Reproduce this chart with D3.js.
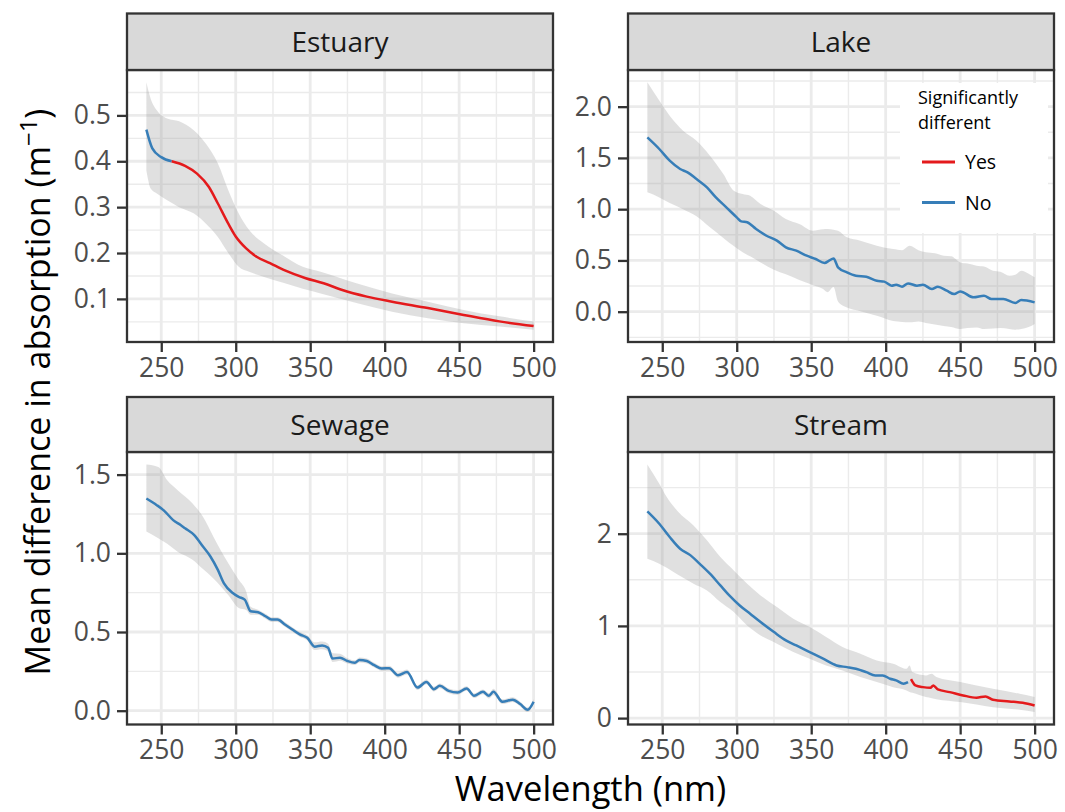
<!DOCTYPE html>
<html><head><meta charset="utf-8">
<script src="https://cdn.jsdelivr.net/npm/d3@7"></script>
<style>
body{margin:0;background:#fff;}
svg{display:block;font-family:'Open Sans',sans-serif;}
</style>
</head><body>
<svg id="chart" width="1065" height="812"></svg>
<script>
// ---------------- DATA ----------------
const xTicks = [250, 300, 350, 400, 450, 500];
const xMinorTicks = [275, 325, 375, 425, 475];
const xRange = [240, 500];

// Estuary
const estuaryNm   = [240, 244, 250, 257, 257, 266, 274, 282, 288, 295, 300, 307, 314, 323, 333, 347, 359, 371, 388, 405, 429, 453, 477, 500];
const estuaryMean = [0.469, 0.428, 0.409, 0.400, 0.400, 0.390, 0.373, 0.344, 0.308, 0.264, 0.236, 0.210, 0.192, 0.178, 0.162, 0.145, 0.134, 0.120, 0.105, 0.094, 0.080, 0.065, 0.051, 0.041];
const estuarySig  = ["No","No","No","No","Yes","Yes","Yes","Yes","Yes","Yes","Yes","Yes","Yes","Yes","Yes","Yes","Yes","Yes","Yes","Yes","Yes","Yes","Yes","Yes"];
const estuaryBandNm = [240, 243, 247, 254, 262, 272, 280, 288, 295, 302, 309, 319, 333, 345, 357, 381, 405, 429, 453, 477, 500];
const estuaryUpper  = [0.572, 0.535, 0.511, 0.493, 0.487, 0.467, 0.438, 0.395, 0.337, 0.286, 0.250, 0.221, 0.192, 0.170, 0.159, 0.134, 0.112, 0.094, 0.076, 0.062, 0.051];
const estuaryLower  = [0.380, 0.340, 0.330, 0.315, 0.300, 0.286, 0.264, 0.235, 0.200, 0.170, 0.159, 0.148, 0.134, 0.122, 0.112, 0.091, 0.072, 0.058, 0.047, 0.040, 0.033];
const estuaryYTicks = [0.1, 0.2, 0.3, 0.4, 0.5];
const estuaryYLabels = ["0.1", "0.2", "0.3", "0.4", "0.5"];
const estuaryYMinor = [0.05, 0.15, 0.25, 0.35, 0.45, 0.55];

// Lake
const lakeNm   = [240, 248, 255, 262, 267, 273, 280, 286, 293, 300, 303, 307, 313, 320, 327, 333, 340, 347, 353, 359, 362, 365, 368, 374, 380, 387, 394, 399, 404, 407, 411, 415, 421, 425, 431, 435, 441, 446, 450, 459, 466, 471, 479, 487, 491, 500];
const lakeMean = [1.70, 1.587, 1.473, 1.392, 1.359, 1.294, 1.213, 1.115, 1.018, 0.920, 0.881, 0.872, 0.807, 0.741, 0.693, 0.628, 0.595, 0.546, 0.514, 0.475, 0.498, 0.520, 0.433, 0.384, 0.351, 0.341, 0.302, 0.293, 0.254, 0.263, 0.244, 0.276, 0.254, 0.263, 0.221, 0.244, 0.205, 0.172, 0.198, 0.140, 0.156, 0.124, 0.124, 0.085, 0.114, 0.091];
const lakeSig  = lakeNm.map(() => "No");
const lakeBandNm = [240, 248, 255, 264, 273, 282, 291, 298, 304, 309, 316, 325, 333, 342, 351, 358, 361, 365, 368, 374, 383, 394, 405, 411, 416, 422, 427, 433, 439, 444, 450, 455, 461, 466, 472, 477, 483, 487, 491, 496, 500];
const lakeUpper  = [2.237, 2.059, 1.912, 1.766, 1.668, 1.522, 1.343, 1.180, 1.148, 1.132, 1.050, 0.985, 0.904, 0.855, 0.790, 0.805, 0.807, 0.800, 0.790, 0.725, 0.693, 0.644, 0.611, 0.600, 0.644, 0.600, 0.579, 0.570, 0.546, 0.540, 0.481, 0.470, 0.449, 0.440, 0.400, 0.390, 0.351, 0.360, 0.400, 0.370, 0.335];
const lakeLower  = [1.164, 1.115, 1.060, 1.000, 0.930, 0.823, 0.720, 0.640, 0.579, 0.540, 0.481, 0.410, 0.365, 0.310, 0.260, 0.221, 0.190, 0.240, 0.100, 0.040, 0.005, -0.040, -0.090, -0.100, -0.104, -0.095, -0.110, -0.125, -0.140, -0.150, -0.169, -0.160, -0.153, -0.170, -0.165, -0.160, -0.169, -0.175, -0.169, -0.150, -0.120];
const lakeYTicks = [0, 0.5, 1, 1.5, 2];
const lakeYLabels = ["0.0", "0.5", "1.0", "1.5", "2.0"];
const lakeYMinor = [-0.25, 0.25, 0.75, 1.25, 1.75, 2.25];

// Sewage
const sewageNm   = [240, 247, 252, 258, 263, 266, 272, 278, 283, 288, 292, 298, 302, 306, 310, 315, 320, 324, 328, 333, 338, 343, 348, 353, 358, 362, 365, 370, 375, 380, 383, 388, 393, 398, 403, 409, 415, 422, 428, 433, 437, 443, 449, 455, 460, 466, 470, 473, 479, 486, 491, 496, 500];
const sewageMean = [1.348, 1.306, 1.270, 1.211, 1.180, 1.159, 1.117, 1.043, 0.980, 0.895, 0.811, 0.748, 0.723, 0.706, 0.632, 0.626, 0.600, 0.579, 0.579, 0.548, 0.516, 0.485, 0.463, 0.407, 0.415, 0.400, 0.331, 0.337, 0.316, 0.305, 0.322, 0.316, 0.289, 0.268, 0.270, 0.225, 0.246, 0.147, 0.183, 0.137, 0.158, 0.126, 0.116, 0.141, 0.095, 0.120, 0.095, 0.120, 0.057, 0.070, 0.042, 0.006, 0.057];
const sewageSig  = sewageNm.map(() => "No");
const sewageBandNm = [240, 248, 254, 261, 271, 278, 285, 295, 302, 307, 310, 315, 320, 324, 328, 333, 338, 343, 348, 353, 358, 362, 365, 370, 375, 380, 383, 388, 393, 398, 403, 409, 415, 422, 428, 433, 437, 443, 449, 455, 460, 466, 470, 473, 479, 486, 491, 496, 500];
const sewageUpper  = [1.565, 1.548, 1.464, 1.401, 1.317, 1.232, 1.106, 0.937, 0.832, 0.758, 0.660, 0.642, 0.616, 0.594, 0.594, 0.563, 0.531, 0.500, 0.480, 0.435, 0.440, 0.425, 0.365, 0.362, 0.333, 0.320, 0.338, 0.331, 0.304, 0.283, 0.286, 0.241, 0.262, 0.162, 0.198, 0.152, 0.173, 0.141, 0.131, 0.156, 0.110, 0.135, 0.112, 0.140, 0.072, 0.085, 0.057, 0.021, 0.072];
const sewageLower  = [1.138, 1.095, 1.060, 1.010, 0.959, 0.900, 0.840, 0.735, 0.653, 0.640, 0.610, 0.610, 0.584, 0.564, 0.564, 0.533, 0.501, 0.470, 0.446, 0.385, 0.390, 0.376, 0.310, 0.318, 0.300, 0.290, 0.306, 0.300, 0.274, 0.253, 0.254, 0.210, 0.230, 0.132, 0.168, 0.122, 0.143, 0.111, 0.101, 0.126, 0.080, 0.105, 0.078, 0.100, 0.042, 0.055, 0.027, -0.009, 0.042];
const sewageYTicks = [0, 0.5, 1, 1.5];
const sewageYLabels = ["0.0", "0.5", "1.0", "1.5"];
const sewageYMinor = [0.25, 0.75, 1.25];

// Stream
const streamNm   = [240, 248, 255, 262, 269, 275, 282, 289, 295, 302, 309, 316, 325, 333, 340, 349, 358, 367, 374, 380, 387, 393, 398, 403, 407, 412, 415, 417, 420, 425, 430, 432, 435, 443, 452, 461, 467, 472, 483, 492, 500];
const streamMean = [2.242, 2.108, 1.964, 1.837, 1.765, 1.675, 1.566, 1.439, 1.331, 1.222, 1.132, 1.042, 0.933, 0.843, 0.788, 0.716, 0.644, 0.571, 0.553, 0.535, 0.499, 0.463, 0.463, 0.427, 0.409, 0.373, 0.390, 0.423, 0.354, 0.336, 0.329, 0.354, 0.311, 0.282, 0.246, 0.221, 0.235, 0.199, 0.181, 0.166, 0.137];
const streamSig  = ["No","No","No","No","No","No","No","No","No","No","No","No","No","No","No","No","No","No","No","No","No","No","No","No","No","No","No","Yes","Yes","Yes","Yes","Yes","Yes","Yes","Yes","Yes","Yes","Yes","Yes","Yes","Yes"];
const streamBandNm = [240, 248, 253, 260, 271, 280, 289, 298, 307, 316, 327, 338, 349, 360, 371, 383, 394, 405, 414, 416, 418, 427, 431, 434, 450, 472, 490, 500];
const streamUpper  = [2.752, 2.542, 2.398, 2.250, 2.090, 1.928, 1.747, 1.602, 1.458, 1.331, 1.204, 1.078, 0.987, 0.879, 0.770, 0.698, 0.626, 0.590, 0.535, 0.571, 0.499, 0.463, 0.481, 0.445, 0.391, 0.318, 0.264, 0.228];
const streamLower  = [1.729, 1.675, 1.630, 1.560, 1.458, 1.385, 1.259, 1.150, 1.005, 0.897, 0.807, 0.716, 0.644, 0.571, 0.517, 0.445, 0.391, 0.336, 0.300, 0.282, 0.275, 0.228, 0.215, 0.205, 0.174, 0.119, 0.090, 0.065];
const streamYTicks = [0, 1, 2];
const streamYLabels = ["0", "1", "2"];
const streamYMinor = [0.5, 1.5, 2.5];

const sigLevels = ["Yes", "No"];
const sigColors = ["#e41a1c", "#377eb8"];
const legendTitle = ["Significantly", "different"];
const xTitle = "Wavelength (nm)";

// ---------------- LAYOUT ----------------
const svg = d3.select("#chart");
svg.append("rect").attr("width", 1065).attr("height", 812).attr("fill", "#fff");

const colX = [[127, 553], [628, 1054]];
const rowY = [{strip: 13.5, top: 70, bottom: 342}, {strip: 397, top: 452, bottom: 724.5}];

const panels = [
  {name: "Estuary", c: 0, r: 0, nm: estuaryNm, mean: estuaryMean, sig: estuarySig, bnm: estuaryBandNm, up: estuaryUpper, lo: estuaryLower, yt: estuaryYTicks, yl: estuaryYLabels, ym: estuaryYMinor},
  {name: "Lake", c: 1, r: 0, nm: lakeNm, mean: lakeMean, sig: lakeSig, bnm: lakeBandNm, up: lakeUpper, lo: lakeLower, yt: lakeYTicks, yl: lakeYLabels, ym: lakeYMinor, legend: true},
  {name: "Sewage", c: 0, r: 1, nm: sewageNm, mean: sewageMean, sig: sewageSig, bnm: sewageBandNm, up: sewageUpper, lo: sewageLower, yt: sewageYTicks, yl: sewageYLabels, ym: sewageYMinor},
  {name: "Stream", c: 1, r: 1, nm: streamNm, mean: streamMean, sig: streamSig, bnm: streamBandNm, up: streamUpper, lo: streamLower, yt: streamYTicks, yl: streamYLabels, ym: streamYMinor}
];

const color = d3.scaleOrdinal().domain(sigLevels).range(sigColors);

function expand(lo, hi, f) { const d = (hi - lo) * f; return [lo - d, hi + d]; }

panels.forEach(p => {
  const [x0, x1] = colX[p.c];
  const R = rowY[p.r];
  const x = d3.scaleLinear().domain(expand(xRange[0], xRange[1], 0.05)).range([x0, x1]);
  const ymin = d3.min(p.lo.concat(p.mean)), ymax = d3.max(p.up.concat(p.mean));
  const y = d3.scaleLinear().domain(expand(ymin, ymax, 0.05)).range([R.bottom, R.top]);
  const g = svg.append("g");

  g.append("rect").attr("x", x0).attr("y", R.top).attr("width", x1 - x0).attr("height", R.bottom - R.top).attr("fill", "#fff");

  // minor grid
  g.selectAll(".gxm").data(xMinorTicks).join("line")
    .attr("x1", d => x(d)).attr("x2", d => x(d)).attr("y1", R.top).attr("y2", R.bottom)
    .attr("stroke", "#ebebeb").attr("stroke-width", 1.4);
  g.selectAll(".gym").data(p.ym).join("line")
    .attr("x1", x0).attr("x2", x1).attr("y1", d => y(d)).attr("y2", d => y(d))
    .attr("stroke", "#ebebeb").attr("stroke-width", 1.4);
  // major grid
  g.selectAll(".gx").data(xTicks).join("line")
    .attr("x1", d => x(d)).attr("x2", d => x(d)).attr("y1", R.top).attr("y2", R.bottom)
    .attr("stroke", "#ebebeb").attr("stroke-width", 2.8);
  g.selectAll(".gy").data(p.yt).join("line")
    .attr("x1", x0).attr("x2", x1).attr("y1", d => y(d)).attr("y2", d => y(d))
    .attr("stroke", "#ebebeb").attr("stroke-width", 2.8);

  // ribbon
  const band = p.bnm.map((n, i) => ({n, lo: p.lo[i], up: p.up[i]}));
  g.append("path").datum(band)
    .attr("d", d3.area().x(d => x(d.n)).y0(d => y(d.lo)).y1(d => y(d.up)).curve(d3.curveMonotoneX))
    .attr("fill", "#999999").attr("fill-opacity", 0.3);

  // lines split by significance runs
  const pts = p.nm.map((n, i) => ({n, v: p.mean[i], s: p.sig[i]}));
  const runs = [];
  pts.forEach(pt => {
    if (!runs.length || runs[runs.length - 1].s !== pt.s) runs.push({s: pt.s, pts: []});
    runs[runs.length - 1].pts.push(pt);
  });
  const line = d3.line().x(d => x(d.n)).y(d => y(d.v)).curve(d3.curveMonotoneX);
  runs.forEach(run => {
    g.append("path").datum(run.pts).attr("d", line)
      .attr("fill", "none").attr("stroke", color(run.s)).attr("stroke-width", 2.5)
      .attr("stroke-linejoin", "round").attr("stroke-linecap", "butt");
  });

  // legend
  if (p.legend) {
    const lg = svg.append("g");
    lg.append("rect").attr("x", 900).attr("y", 83).attr("width", 148).attr("height", 150).attr("fill", "#fff");
    lg.selectAll(".lt").data(legendTitle).join("text")
      .attr("x", 918).attr("y", (d, i) => 104 + i * 24.5)
      .attr("font-size", 18).attr("fill", "#000").text(d => d);
    sigLevels.forEach((s, i) => {
      const yy = 162 + i * 40.5;
      lg.append("line").attr("x1", 922).attr("x2", 955).attr("y1", yy).attr("y2", yy)
        .attr("stroke", color(s)).attr("stroke-width", 2.8);
      lg.append("text").attr("x", 965).attr("y", yy).attr("dy", "0.36em")
        .attr("font-size", 19.5).attr("fill", "#000").text(s);
    });
  }

  // panel border
  g.append("rect").attr("x", x0).attr("y", R.top).attr("width", x1 - x0).attr("height", R.bottom - R.top)
    .attr("fill", "none").attr("stroke", "#333333").attr("stroke-width", 2.3);

  // strip
  g.append("rect").attr("x", x0).attr("y", R.strip).attr("width", x1 - x0).attr("height", R.top - R.strip)
    .attr("fill", "#d9d9d9").attr("stroke", "#333333").attr("stroke-width", 2.3);
  g.append("text").attr("x", (x0 + x1) / 2).attr("y", (R.strip + R.top) / 2).attr("dy", "0.36em")
    .attr("text-anchor", "middle").attr("font-size", 28).attr("fill", "#1a1a1a").text(p.name);

  // axes
  const ax = g.append("g").attr("transform", `translate(0,${R.bottom})`)
    .call(d3.axisBottom(x).tickValues(xTicks).tickSize(10).tickSizeOuter(0).tickPadding(6));
  const ay = g.append("g").attr("transform", `translate(${x0},0)`)
    .call(d3.axisLeft(y).tickValues(p.yt).tickFormat((d, i) => p.yl[i]).tickSize(10).tickSizeOuter(0).tickPadding(6));
  [ax, ay].forEach(a => {
    a.select(".domain").remove();
    a.selectAll(".tick line").attr("stroke", "#333333").attr("stroke-width", 2.3);
    a.selectAll(".tick text").attr("font-size", 26.5).attr("fill", "#4d4d4d").attr("font-family", "'Open Sans',sans-serif");
  });
});

// axis titles
svg.append("text").attr("x", 590.5).attr("y", 801).attr("text-anchor", "middle")
  .attr("font-size", 34.5).attr("fill", "#000").text(xTitle);

const yt = svg.append("text").attr("transform", "translate(50,392) rotate(-90)")
  .attr("text-anchor", "middle").attr("font-size", 34).attr("fill", "#000");
yt.append("tspan").text("Mean difference in absorption (m");
yt.append("tspan").attr("font-size", 24).attr("dy", -13).text("\u22121");
yt.append("tspan").attr("dy", 13).text(")");
</script>
</body></html>
